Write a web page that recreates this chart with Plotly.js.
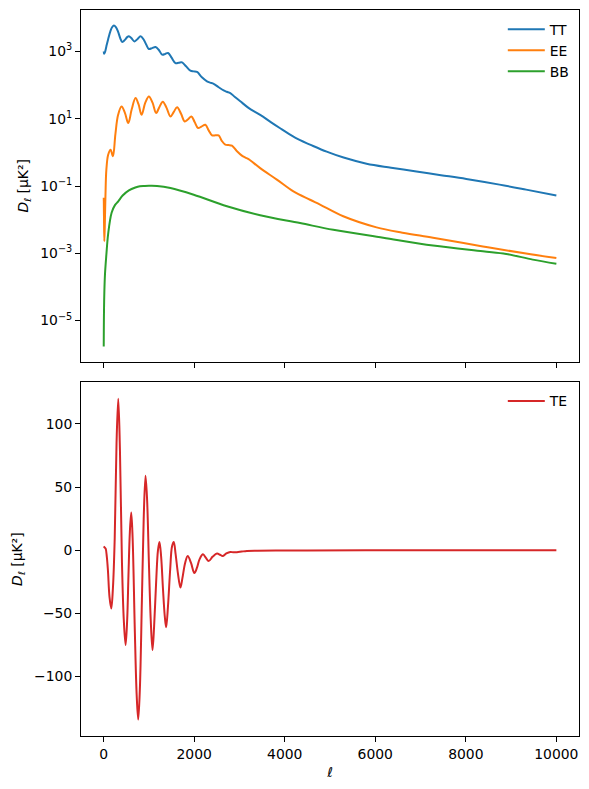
<!DOCTYPE html>
<html><head><meta charset="utf-8">
<script src="https://cdn.plot.ly/plotly-3.0.1.min.js"></script>
<style>html,body{margin:0;padding:0;background:#fff}</style>
</head><body><div id="chart" style="width:589px;height:789px"></div>
<script>
// multipole values and spectra
const ellTT = [2, 10, 30, 60, 100, 150, 190, 227, 270, 320, 370, 411, 470, 520, 558, 610, 683, 750, 815, 880, 940, 999, 1070, 1145, 1220, 1293, 1360, 1424, 1500, 1586, 1660, 1733, 1820, 1916, 1990, 2063, 2170, 2283, 2350, 2430, 2540, 2650, 2720, 2797, 2900, 3018, 3200, 3458, 3700, 3899, 4100, 4339, 4559, 4927, 5300, 5808, 6350, 6909, 7450, 8011, 8744, 9332, 10000];
const TT = [1000, 850, 950, 1400, 2300, 4000, 5300, 5900, 5300, 3800, 2400, 1900, 2200, 2650, 2800, 2500, 1980, 2350, 2800, 2300, 1600, 1180, 1250, 1350, 1100, 800, 840, 900, 650, 450, 460, 470, 360, 267, 255, 245, 170, 129, 118, 109, 86, 69, 63, 58, 44, 33, 21, 13, 7.8, 5.2, 3.5, 2.3, 1.7, 1.05, 0.7, 0.46, 0.35, 0.27, 0.21, 0.162, 0.11, 0.078, 0.052];

const ellEE = [2, 4, 8, 15, 25, 40, 60, 100, 154, 205, 260, 320, 396, 470, 544, 620, 705, 770, 837, 920, 999, 1080, 1160, 1230, 1307, 1390, 1476, 1550, 1623, 1710, 1791, 1860, 1938, 2010, 2085, 2160, 2247, 2320, 2394, 2470, 2540, 2610, 2687, 2760, 2834, 2940, 3054, 3130, 3201, 3458, 3826, 4192, 4559, 4780, 5293, 6028, 6600, 7276, 8377, 9332, 10000];
const EE = [0.045, 0.035, 0.01, 0.0023, 0.006, 0.05, 0.3, 0.85, 1.2, 0.76, 3.5, 13, 23, 15, 7.4, 19, 41, 27, 13, 30, 46, 30, 14.8, 22, 32, 21, 11.7, 16, 22, 14, 8.3, 9.5, 11.7, 8, 5.3, 5.8, 6.6, 4.5, 3.2, 3.2, 3.2, 2.2, 1.7, 1.65, 1.58, 1.1, 0.8, 0.7, 0.63, 0.34, 0.155, 0.069, 0.039, 0.028, 0.0126, 0.0059, 0.0041, 0.0029, 0.0016, 0.00098, 0.00072];

const ellBB = [2, 4, 8, 15, 30, 60, 100, 176, 250, 323, 420, 558, 700, 800, 900, 1000, 1180, 1476, 1990, 2724, 3458, 4339, 5073, 6175, 7276, 8377, 8892, 9479, 10000];
const BB = [1.7e-6, 5e-6, 2e-5, 6.5e-5, 2.4e-4, 9e-4, 0.0038, 0.016, 0.027, 0.035, 0.052, 0.074, 0.09, 0.098, 0.1, 0.101, 0.1, 0.087, 0.055, 0.025, 0.0135, 0.0079, 0.005, 0.0029, 0.0017, 0.00115, 0.00096, 0.00065, 0.00049];

const ellTE = [2, 20, 45, 70, 95, 130, 169, 205, 245, 285, 323, 360, 405, 445, 485, 520, 548, 580, 610, 640, 690, 730, 764, 800, 845, 885, 925, 960, 1000, 1040, 1079, 1115, 1160, 1200, 1233, 1270, 1310, 1350, 1381, 1420, 1470, 1510, 1549, 1590, 1640, 1696, 1740, 1800, 1857, 1930, 2004, 2060, 2120, 2195, 2260, 2320, 2410, 2504, 2570, 2628, 2710, 2797, 2870, 2944, 3050, 3165, 3400, 3800, 4500, 6000, 8000, 10000];
const TE = [3.2, 2.4, 1.3, -5, -16, -37, -46, -30, 10, 85, 120, 80, -10, -55, -75, -55, -20, 15, 30, 10, -65, -115, -134, -110, -40, 25, 59, 40, -10, -55, -79, -60, -25, 0, 6.6, -5, -30, -52, -61, -45, -15, 3, 6.6, -3, -18, -29.5, -22, -10, -4.5, -10, -18, -14, -7, -3.2, -6, -8.5, -5, -2.6, -3.5, -4.5, -2.5, -1.3, -1.6, -1.5, -1, -0.5, -0.3, -0.2, -0.1, 0, 0, 0];

const xTicks = [0, 2000, 4000, 6000, 8000, 10000];
const yTopTicks = [1e-5, 1e-3, 1e-1, 1e1, 1e3];
const yTopText = ['10<sup>\u22125</sup>', '10<sup>\u22123</sup>', '10<sup>\u22121</sup>', '10<sup>1</sup>', '10<sup>3</sup>'];
const yBotTicks = [-100, -50, 0, 50, 100];

const FS = 13.9;
const lw = 2;
const sm = 1.0;
function tr(x, y, name, color, xa, ya, leg) {
  return {x: x, y: y, name: name, type: 'scatter', mode: 'lines',
    line: {color: color, width: lw, shape: 'spline', smoothing: sm},
    xaxis: xa, yaxis: ya, legend: leg};
}
const data = [
  tr(ellTT, TT, 'TT', '#1f77b4', 'x', 'y', 'legend'),
  tr(ellEE, EE, 'EE', '#ff7f0e', 'x', 'y', 'legend'),
  tr(ellBB, BB, 'BB', '#2ca02c', 'x', 'y', 'legend'),
  tr(ellTE, TE, 'TE', '#d62728', 'x2', 'y2', 'legend2')
];
const axBase = {showline: true, mirror: true, linecolor: '#000', linewidth: 1,
  ticks: 'outside', ticklen: 5, tickwidth: 1, tickcolor: '#000',
  showgrid: false, zeroline: false, tickfont: {size: FS, color: '#000'}};
const layout = {
  width: 589, height: 789,
  margin: {l: 81, r: 10, t: 10, b: 53},
  paper_bgcolor: '#fff', plot_bgcolor: '#fff',
  font: {family: 'DejaVu Sans', size: FS, color: '#000'},
  showlegend: true,
  xaxis: Object.assign({}, axBase, {domain: [0, 1], anchor: 'y', range: [-500, 10500],
    tickvals: xTicks, showticklabels: false}),
  yaxis: Object.assign({}, axBase, {domain: [0.5156, 1], anchor: 'x', type: 'log',
    range: [-6.22, 4.23], tickvals: yTopTicks, ticktext: yTopText,
    title: {text: '<i>D</i><sub>\u2113</sub> [\u03bcK\u00b2]', font: {size: FS}, standoff: 8}}),
  xaxis2: Object.assign({}, axBase, {domain: [0, 1], anchor: 'y2', range: [-500, 10500],
    tickvals: xTicks, tickformat: 'd',
    title: {text: '<i>\u2113</i>', font: {size: FS}, standoff: 6}}),
  yaxis2: Object.assign({}, axBase, {domain: [0, 0.4872], anchor: 'x2',
    range: [-147, 133], tickvals: yBotTicks,
    title: {text: '<i>D</i><sub>\u2113</sub> [\u03bcK\u00b2]', font: {size: FS}, standoff: 8}}),
  legend: {x: 0.847, y: 0.995, xanchor: 'left', yanchor: 'top', bgcolor: 'rgba(0,0,0,0)',
    borderwidth: 0, itemwidth: 37, font: {size: FS}},
  legend2: {x: 0.847, y: 0.483, xanchor: 'left', yanchor: 'top', bgcolor: 'rgba(0,0,0,0)',
    borderwidth: 0, itemwidth: 37, font: {size: FS}}
};
Plotly.newPlot('chart', data, layout, {staticPlot: true, displayModeBar: false});
</script></body></html>
